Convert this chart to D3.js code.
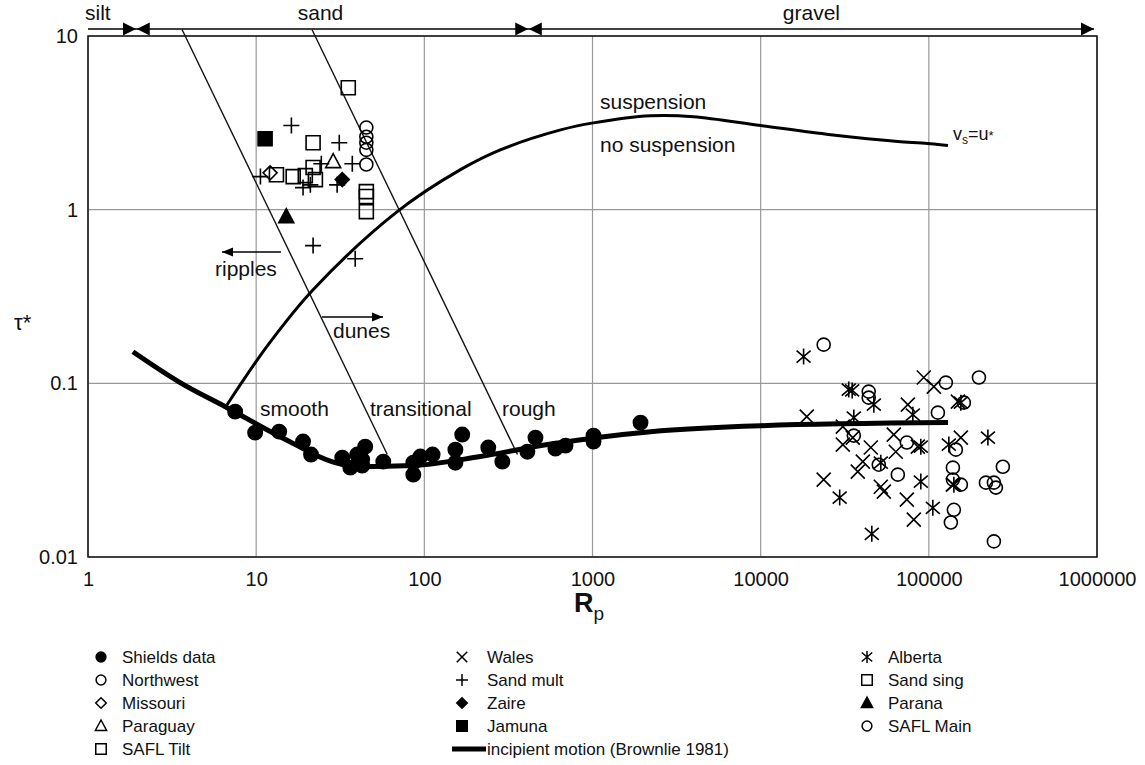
<!DOCTYPE html>
<html>
<head>
<meta charset="utf-8">
<script src="https://cdn.jsdelivr.net/npm/d3@7"></script>
<style>
  body { margin: 0; background: #fff; }
  svg text { font-family: "Liberation Sans", Arial, sans-serif; fill: #111; }
</style>
</head>
<body>
<svg width="1145" height="765"></svg>
<script>
// ---- data (Rp, tau*) ----
const shieldsData = [[7.5,0.0687],[9.86,0.052],[13.7,0.0527],[19,0.0462],[21.2,0.0389],[32.5,0.0373],[36.3,0.0327],[39.9,0.0389],[42.7,0.0364],[44.5,0.0432],[42.7,0.0336],[57,0.0354],[86,0.0298],[86,0.0349],[94.7,0.0379],[112,0.0389],[168,0.0507],[153,0.0415],[153,0.0349],[240,0.0427],[291,0.0354],[410,0.0404],[458,0.0487],[602,0.0421],[691,0.0438],[1014,0.05],[1014,0.0462],[1930,0.0594]];
const northwestData = [[45.2,2.97],[45.2,2.63],[45.2,2.43],[45.2,2.21],[45.2,1.82]];
const missouriData = [[12.1,1.63]];
const paraguayData = [[28.7,1.89]];
const saflTiltData = [[13.2,1.59],[16.6,1.55],[19.6,1.57],[21.8,1.75],[22.5,1.49]];
const walesData = [[18800,0.0643],[30800,0.0563],[35300,0.0487],[30800,0.0444],[61900,0.0507],[45200,0.0427],[40500,0.0354],[37800,0.031],[63600,0.0404],[75000,0.0754],[93300,0.108],[107100,0.0957],[23700,0.0279],[51800,0.0254],[54000,0.0238],[74000,0.0214],[81400,0.0164],[86000,0.0432],[155000,0.0487],[139000,0.0261],[148800,0.0785]];
const sandMultData = [[16.2,3.05],[31.2,2.43],[37.3,1.84],[24.4,1.84],[10.6,1.55],[19,1.34],[21,1.39],[30.3,1.39],[21.8,0.621],[38.8,0.522]];
const zaireData = [[32.5,1.49]];
const jamunaData = [[11.3,2.56]];
const albertaData = [[18000,0.1425],[33400,0.092],[35000,0.091],[47100,0.0754],[35800,0.0635],[80300,0.066],[89600,0.0432],[51800,0.0349],[89600,0.0272],[29500,0.022],[105600,0.0192],[45800,0.0136],[131500,0.0444],[155000,0.0774],[224500,0.0487],[140900,0.0261]];
const sandSingData = [[35.3,5.04],[21.8,2.43],[45.2,1.27],[45.2,1.19],[45.2,0.974]];
const paranaData = [[15.1,0.911]];
const saflMainData = [[23700,0.167],[43900,0.0896],[43900,0.0827],[35800,0.05],[74000,0.0456],[50400,0.034],[65400,0.0298],[113200,0.0678],[126300,0.101],[198600,0.108],[161500,0.0774],[144800,0.0415],[139000,0.0327],[139000,0.0279],[155000,0.0261],[218500,0.0268],[243700,0.0268],[250500,0.0251],[275500,0.0331],[140900,0.0187],[135200,0.0158],[243700,0.0123]];

// curves
const brownlieCurve = [[1.85,0.152],[3.53,0.101],[6.72,0.0724],[13.9,0.0493],[33,0.034],[41.6,0.0331],[86,0.0336],[215,0.0379],[540,0.0444],[2213,0.0527],[10000,0.057],[130000,0.0594]];
const suspensionCurve = [[6.7,0.075],[11.8,0.167],[21.8,0.346],[69,0.974],[164,1.7],[283,2.21],[646,2.88],[1014,3.16],[2213,3.47],[3990,3.43],[10000,3.05],[26100,2.7],[68000,2.46],[102000,2.4],[130000,2.34]];
const ripplesDunesLine = [[3.63,10.87],[60.2,0.0389]];
const roughLine = [[21.5,10.87],[358,0.0389]];

// size classes along the top
const sizeClasses = [["silt",1,1.93],["sand",1.95,415],["gravel",418,960000]];

const xTicks = [1,10,100,1000,10000,100000,1000000];
const yTicks = [0.01,0.1,1,10];

const svg = d3.select("svg");
const x = d3.scaleLog().domain([1, 1e6]).range([88, 1097]);
const y = d3.scaleLog().domain([0.01, 10]).range([557, 36]);

// grid
svg.append("g").selectAll("line").data(xTicks).enter().append("line")
  .attr("x1", d => x(d)).attr("x2", d => x(d))
  .attr("y1", y(10)).attr("y2", y(0.01))
  .attr("stroke", "#999").attr("stroke-width", 1.2);
svg.append("g").selectAll("line").data(yTicks).enter().append("line")
  .attr("x1", x(1)).attr("x2", x(1e6))
  .attr("y1", d => y(d)).attr("y2", d => y(d))
  .attr("stroke", "#999").attr("stroke-width", 1.2);

// box
svg.append("rect")
  .attr("x", x(1)).attr("y", y(10))
  .attr("width", x(1e6) - x(1)).attr("height", y(0.01) - y(10))
  .attr("fill", "none").attr("stroke", "#111").attr("stroke-width", 1.5);

// axes
const xAxis = svg.append("g")
  .attr("transform", `translate(0,${y(0.01)})`)
  .call(d3.axisBottom(x).tickValues(xTicks).tickFormat(d3.format("d")).tickSize(0).tickPadding(15));
const yAxis = svg.append("g")
  .attr("transform", `translate(${x(1)},0)`)
  .call(d3.axisLeft(y).tickValues(yTicks).tickFormat(d => String(d)).tickSize(0).tickPadding(10));
[xAxis, yAxis].forEach(a => {
  a.select(".domain").remove();
  a.selectAll("text").attr("font-size", 20).attr("font-family", "Liberation Sans, Arial, sans-serif").attr("fill", "#111");
});

// diagonal regime lines
const line = d3.line().x(d => x(d[0])).y(d => y(d[1]));
[ripplesDunesLine, roughLine].forEach(l => {
  svg.append("path").attr("d", line(l))
    .attr("fill", "none").attr("stroke", "#111").attr("stroke-width", 1.4);
});

// curves
const smooth = d3.line().x(d => x(d[0])).y(d => y(d[1])).curve(d3.curveCatmullRom.alpha(0.5));
svg.append("path").attr("d", smooth(suspensionCurve))
  .attr("fill", "none").attr("stroke", "#000").attr("stroke-width", 3);
svg.append("path").attr("d", d3.line().x(d => x(d[0])).y(d => y(d[1])).curve(d3.curveMonotoneX)(brownlieCurve))
  .attr("fill", "none").attr("stroke", "#000").attr("stroke-width", 5);

// marker shapes
function markerPath(type, s) {
  const k = v => (v * s).toFixed(2);
  switch (type) {
    case "circle": return `M${k(-6.5)},0A${k(6.5)},${k(6.5)} 0 1,0 ${k(6.5)},0A${k(6.5)},${k(6.5)} 0 1,0 ${k(-6.5)},0Z`;
    case "square": return `M${k(-7)},${k(-7)}H${k(7)}V${k(7)}H${k(-7)}Z`;
    case "diamond": return `M0,${k(-7)}L${k(7)},0L0,${k(7)}L${k(-7)},0Z`;
    case "triangle": return `M0,${k(-8)}L${k(7.5)},${k(6)}H${k(-7.5)}Z`;
    case "x": return `M${k(-7)},${k(-7)}L${k(7)},${k(7)}M${k(-7)},${k(7)}L${k(7)},${k(-7)}`;
    case "plus": return `M${k(-8)},0H${k(8)}M0,${k(-8)}V${k(8)}`;
    case "asterisk": return `M${k(-7)},${k(-6)}L${k(7)},${k(6)}M${k(-7)},${k(6)}L${k(7)},${k(-6)}M0,${k(-8)}V${k(8)}`;
  }
}

const series = [
  { name: "Shields data", data: shieldsData, shape: "circle", filled: true },
  { name: "Northwest", data: northwestData, shape: "circle", filled: false },
  { name: "Missouri", data: missouriData, shape: "diamond", filled: false },
  { name: "Paraguay", data: paraguayData, shape: "triangle", filled: false },
  { name: "SAFL Tilt", data: saflTiltData, shape: "square", filled: false },
  { name: "Wales", data: walesData, shape: "x", filled: false },
  { name: "Sand mult", data: sandMultData, shape: "plus", filled: false },
  { name: "Zaire", data: zaireData, shape: "diamond", filled: true },
  { name: "Jamuna", data: jamunaData, shape: "square", filled: true },
  { name: "incipient motion (Brownlie 1981)", data: [], shape: "line" },
  { name: "Alberta", data: albertaData, shape: "asterisk", filled: false },
  { name: "Sand sing", data: sandSingData, shape: "square", filled: false },
  { name: "Parana", data: paranaData, shape: "triangle", filled: true },
  { name: "SAFL Main", data: saflMainData, shape: "circle", filled: false }
];

series.forEach(s => {
  svg.append("g").selectAll("path").data(s.data).enter().append("path")
    .attr("transform", d => `translate(${x(d[0])},${y(d[1])})`)
    .attr("d", markerPath(s.shape, s.shape === "circle" && s.filled ? 1.1 : 1))
    .attr("fill", s.filled ? "#000" : "none")
    .attr("stroke", "#000").attr("stroke-width", 1.6);
});

// size class arrows on top
const topY = 29;
svg.append("line").attr("x1", x(1)).attr("x2", x(960000))
  .attr("y1", topY).attr("y2", topY).attr("stroke", "#000").attr("stroke-width", 1.5);
function arrowHead(tipX, dir) {
  svg.append("path")
    .attr("d", `M${tipX},${topY}L${tipX - dir * 13},${topY - 6.5}L${tipX - dir * 13},${topY + 6.5}Z`)
    .attr("fill", "#000");
}
sizeClasses.forEach((c, i) => {
  if (i > 0) arrowHead(x(c[1]), -1);
  arrowHead(x(c[2]), 1);
  const mid = i === 0 ? x(c[1]) - 3 : (x(c[1]) + x(c[2])) / 2 - (i === 1 ? 12 : 0);
  svg.append("text").attr("x", mid).attr("y", 20)
    .attr("text-anchor", i === 0 ? "start" : "middle")
    .attr("font-size", 21).text(c[0]);
});

// annotations
const ann = (tx, ty, t) => svg.append("text").attr("x", tx).attr("y", ty).attr("font-size", 21).text(t);
ann(600, 109, "suspension");
ann(600, 152, "no suspension");
ann(215, 276, "ripples");
ann(333, 338, "dunes");
ann(260, 416, "smooth");
ann(370, 416, "transitional");
ann(502, 416, "rough");

function hArrow(x1, x2, yy) {
  svg.append("line").attr("x1", x1).attr("x2", x2).attr("y1", yy).attr("y2", yy)
    .attr("stroke", "#000").attr("stroke-width", 1.4);
  const d = x2 > x1 ? 1 : -1;
  svg.append("path").attr("d", `M${x2},${yy}L${x2 - d * 11},${yy - 4.5}L${x2 - d * 11},${yy + 4.5}Z`).attr("fill", "#000");
}
hArrow(281, 222, 252);
hArrow(322, 383, 317);

const vs = svg.append("text").attr("x", 953).attr("y", 140).attr("font-size", 18);
vs.append("tspan").text("v");
vs.append("tspan").attr("font-size", 12).attr("dy", 4).text("s");
vs.append("tspan").attr("dy", -4).text("=u");
vs.append("tspan").attr("font-size", 13).text("*");

// axis titles
svg.append("text").attr("x", 14).attr("y", 330).attr("font-size", 22).text("τ*");
const rp = svg.append("text").attr("x", 574).attr("y", 612).attr("font-size", 27).attr("font-weight", "bold");
rp.append("tspan").text("R");
rp.append("tspan").attr("font-size", 19).attr("font-weight", "normal").attr("dy", 8).text("p");

// legend
const cols = [[101, 122], [462, 487], [867, 888]];
series.forEach((s, i) => {
  const col = cols[Math.floor(i / 5)];
  const row = i % 5;
  const cy = 657 + row * 23;
  if (s.shape === "line") {
    svg.append("line").attr("x1", col[0] - 10).attr("x2", col[1] - 1)
      .attr("y1", cy).attr("y2", cy).attr("stroke", "#000").attr("stroke-width", 5);
  } else {
    svg.append("path").attr("transform", `translate(${col[0]},${cy})`)
      .attr("d", markerPath(s.shape, 0.75))
      .attr("fill", s.filled ? "#000" : "none")
      .attr("stroke", "#000").attr("stroke-width", 1.5);
  }
  svg.append("text").attr("x", col[1]).attr("y", cy).attr("dy", "0.35em")
    .attr("font-size", 17).text(s.name);
});
</script>
</body>
</html>
